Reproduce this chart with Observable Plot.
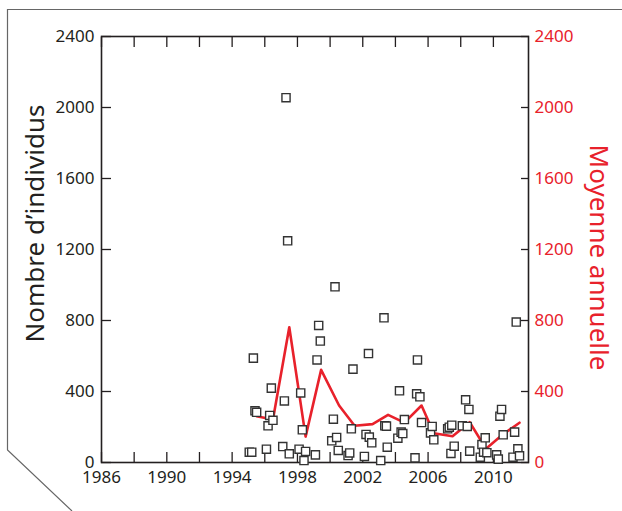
<!DOCTYPE html>
<html><head><meta charset="utf-8">
<script src="https://cdn.jsdelivr.net/npm/d3@7"></script>
<script src="https://cdn.jsdelivr.net/npm/@observablehq/plot@0.6"></script>
<style>
body{margin:0;background:#fff}
#wrap{position:relative;width:622px;height:511px}
#deco{position:absolute;left:0;top:0;pointer-events:none}
</style>
</head><body><div id="wrap"></div>
<script>
// Individual observations (fractional year, count)
const pointYears = [
  1995.05, 1995.2, 1995.3, 1995.4, 1995.5,
  1996.1, 1996.2, 1996.3, 1996.4, 1996.5,
  1997.1, 1997.2, 1997.3, 1997.4, 1997.5,
  1998.1, 1998.2, 1998.3, 1998.4, 1998.5,
  1999.1, 1999.2, 1999.3, 1999.4,
  2000.1, 2000.2, 2000.3, 2000.4, 2000.5,
  2001.1, 2001.2, 2001.3, 2001.4,
  2002.1, 2002.2, 2002.35, 2002.4, 2002.55,
  2003.1, 2003.3, 2003.35, 2003.45, 2003.5,
  2004.15, 2004.25, 2004.35, 2004.45, 2004.55,
  2005.2, 2005.3, 2005.35, 2005.5, 2005.6,
  2006.15, 2006.25, 2006.35,
  2007.2, 2007.3, 2007.4, 2007.45, 2007.6,
  2008.1, 2008.3, 2008.4, 2008.5, 2008.55,
  2009.2, 2009.3, 2009.4, 2009.5, 2009.6,
  2010.2, 2010.3, 2010.4, 2010.5, 2010.6,
  2011.2, 2011.3, 2011.4, 2011.5, 2011.6
];
const pointValues = [
  58, 58, 588, 291, 283,
  75, 207, 265, 419, 238,
  90, 347, 2055, 1249, 49,
  75, 392, 184, 11, 62,
  43, 578, 772, 684,
  122, 244, 990, 141, 68,
  39, 54, 190, 526,
  34, 158, 614, 143, 111,
  11, 815, 207, 205, 86,
  137, 404, 171, 163, 242,
  26, 387, 578, 370, 225,
  167, 203, 128,
  190, 199, 51, 210, 92,
  207, 353, 203, 299, 64,
  30, 101, 58, 139, 55,
  43, 19, 261, 299, 156,
  30, 171, 791, 77, 38
];
// Annual means (position within year as drawn, value)
const meanYears = [1995.5, 1996.5, 1997.5, 1998.5, 1999.45, 2000.55, 2001.5, 2002.6, 2003.55, 2004.55, 2005.6, 2006.35, 2007.5, 2008.55, 2009.55, 2010.55, 2011.6];
const meanValues = [261, 242, 762, 146, 522, 321, 207, 216, 268, 225, 321, 165, 148, 227, 77, 156, 224];

const xLabelTicks = [1986, 1990, 1994, 1998, 2002, 2006, 2010];
const xTickMarks = [1986, 1988, 1990, 1992, 1994, 1996, 1998, 2000, 2002, 2004, 2006, 2008, 2010];
const yTicks = [0, 400, 800, 1200, 1600, 2000, 2400];
const leftTitle = "Nombre d’individus";
const rightTitle = "Moyenne annuelle";

const points = pointYears.map((x, i) => ({x, v: pointValues[i]}));
const means = meanYears.map((x, i) => ({x, v: meanValues[i]}));
const ink = "#231f20", red = "#e8212b";

const chart = Plot.plot({
  width: 622, height: 511,
  marginLeft: 101, marginRight: 94, marginTop: 36, marginBottom: 49,
  style: {fontFamily: "'Noto Sans', sans-serif", fontSize: "17px", background: "white", overflow: "visible"},
  x: {domain: [1986, 2012.15], label: null},
  y: {domain: [0, 2400], label: null},
  marks: [
    Plot.axisX(xTickMarks, {anchor: "bottom", tickSize: -10, tickFormat: () => "", stroke: ink, strokeWidth: 1.3}),
    Plot.axisX(xTickMarks, {anchor: "top", tickSize: -10, tickFormat: () => "", stroke: ink, strokeWidth: 1.3}),
    Plot.axisX(xLabelTicks, {anchor: "bottom", tickSize: 0, tickPadding: 8, tickFormat: d => String(d), fill: ink, fontSize: 17}),
    Plot.axisY(yTicks, {anchor: "left", tickSize: -10, tickFormat: () => "", stroke: ink, strokeWidth: 1.3}),
    Plot.axisY(yTicks, {anchor: "right", tickSize: -8, tickFormat: () => "", stroke: ink, strokeWidth: 1.3}),
    Plot.axisY(yTicks, {anchor: "left", tickSize: 0, tickPadding: 7, fill: ink, fontSize: 17, tickFormat: d => String(d)}),
    Plot.axisY(yTicks, {anchor: "right", tickSize: 0, tickPadding: 6, fill: red, fontSize: 17, tickFormat: d => String(d)}),
    Plot.frame({stroke: ink, strokeWidth: 1.6}),
    Plot.line(means, {x: "x", y: "v", stroke: red, strokeWidth: 2.6}),
    Plot.dot(points, {x: "x", y: "v", symbol: "square", r: 4.6, fill: "white", stroke: "#333", strokeWidth: 1.4}),
    Plot.text([leftTitle], {text: d => d, frameAnchor: "left", textAnchor: "middle", lineAnchor: "middle", dx: -66, dy: -26, rotate: -90, fontSize: 26, fill: ink}),
    Plot.text([rightTitle], {text: d => d, frameAnchor: "right", textAnchor: "middle", lineAnchor: "middle", dx: 70, dy: 8, rotate: 90, fontSize: 26, fill: red})
  ]
});
const wrap = document.getElementById("wrap");
wrap.appendChild(chart);
wrap.insertAdjacentHTML("beforeend",
  '<svg id="deco" width="622" height="511"><path d="M622,9.5H7.5V450L72,511" fill="none" stroke="#666" stroke-width="1.2"/></svg>');
</script>
</body></html>
